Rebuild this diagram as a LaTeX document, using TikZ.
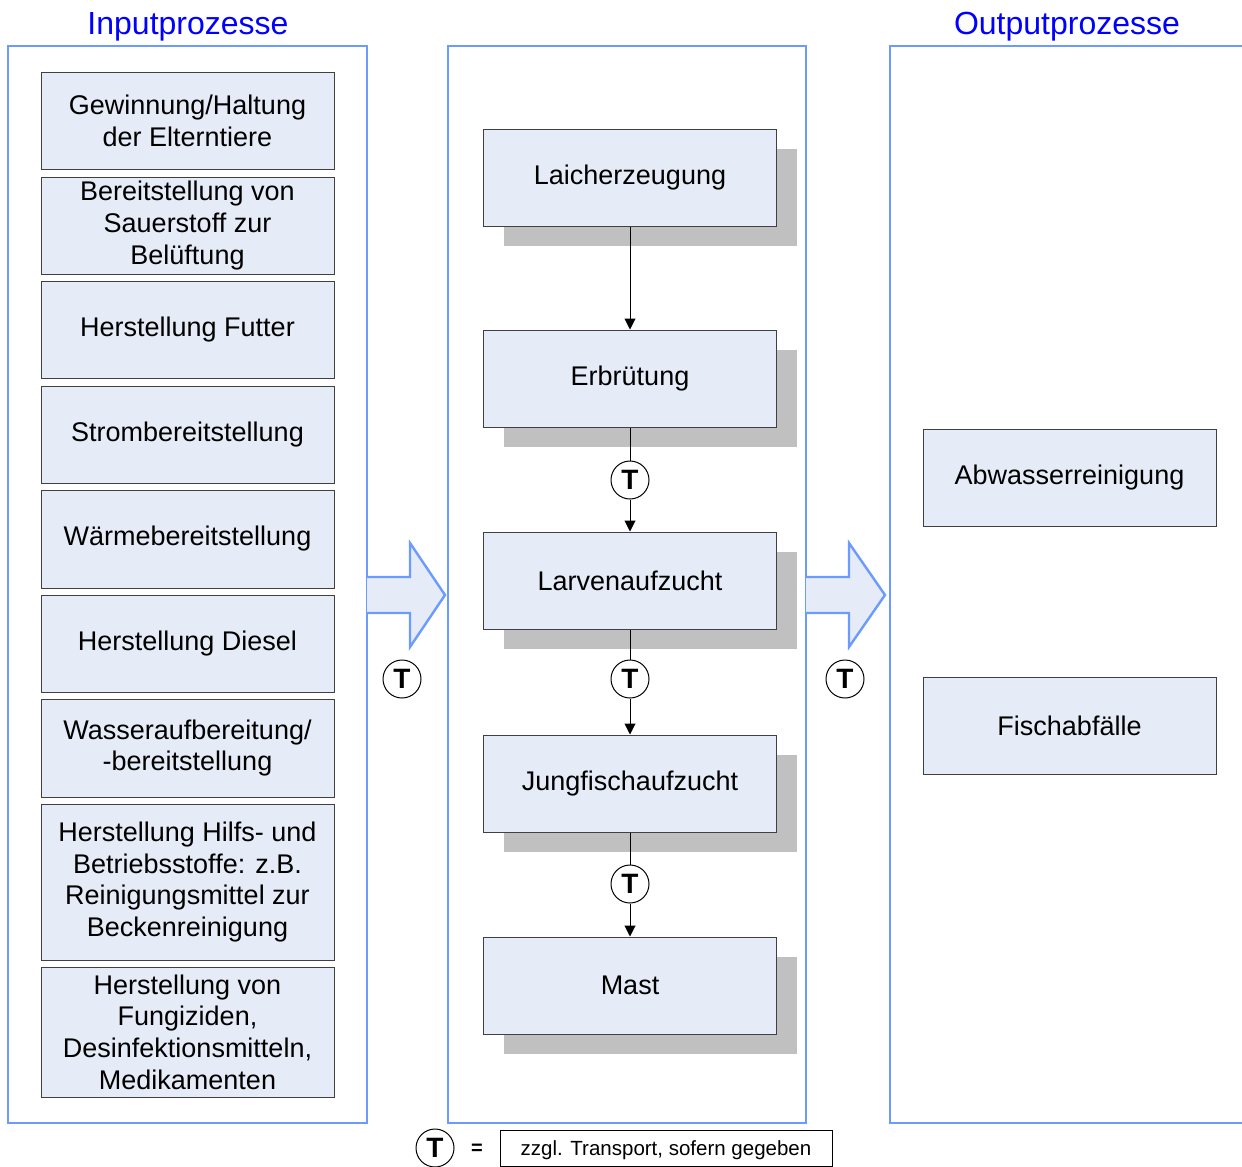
\documentclass[tikz,border=0pt]{standalone}
\usepackage{fontspec}
\setmainfont{Liberation Sans}
\usetikzlibrary{shadows,arrows.meta}
\definecolor{panelblue}{HTML}{6B9BFF}
\definecolor{titleblue}{HTML}{0000FF}
\definecolor{boxfill}{HTML}{E6ECF7}
\definecolor{boxline}{HTML}{404040}
\definecolor{shadowgray}{HTML}{C0C0C0}
\tikzset{
  panel/.style={draw=panelblue, line width=2.4pt},
  paneltitle/.style={text=titleblue, font=\fontsize{32}{36}\selectfont, inner sep=0pt},
  procbox/.style={draw=boxline, fill=boxfill, line width=1pt, minimum width=293pt,
    minimum height=97pt, align=center, inner sep=0pt,
    font=\fontsize{27}{31.7}\selectfont},
  stagebox/.style={procbox, drop shadow={shadow xshift=20pt, shadow yshift=-20pt,
    fill=shadowgray, opacity=1}},
  tcircle/.style={circle, draw=black, line width=1pt, fill=white, minimum size=38pt,
    inner sep=0pt, font=\fontsize{28}{28}\selectfont\bfseries},
  flow/.style={draw=black, line width=1pt, -{Triangle[length=11pt,width=11pt]}},
  link/.style={draw=black, line width=1pt},
  blockarrow/.style={draw=panelblue, fill=boxfill, line width=2.4pt, line join=miter}
}
\begin{document}
\begin{tikzpicture}[x=1pt,y=-1pt]
\useasboundingbox (0,0) rectangle (1242,1167);
\fill[white] (0,0) rectangle (1242,1167);

% panels
\draw[panel] (8,46) rectangle (367,1123);
\draw[panel] (448,46) rectangle (806,1123);
\draw[panel] (1246,46) -- (890,46) -- (890,1123) -- (1246,1123);
\node[paneltitle] (tin) at (188,27) {Inputprozesse};
\node[paneltitle] (tout) at (1067,27) {Outputprozesse};

% input processes
\node[procbox, minimum height=97pt]  (i1) at (187.5,120.5) {Gewinnung/Haltung\\der Elterntiere};
\node[procbox, minimum height=97pt]  (i2) at (187.5,225.5) {Bereitstellung von\\Sauerstoff zur\\Belüftung};
\node[procbox, minimum height=97pt]  (i3) at (187.5,329.5) {Herstellung Futter};
\node[procbox, minimum height=97pt]  (i4) at (187.5,434.5) {Strombereitstellung};
\node[procbox, minimum height=98pt]  (i5) at (187.5,539) {Wärmebereitstellung};
\node[procbox, minimum height=97pt]  (i6) at (187.5,643.5) {Herstellung Diesel};
\node[procbox, minimum height=98pt]  (i7) at (187.5,748) {Wasseraufbereitung/\\-bereitstellung};
\node[procbox, minimum height=156pt] (i8) at (187.5,882) {Herstellung Hilfs- und\\Betriebsstoffe: z.B.\\Reinigungsmittel zur\\Beckenreinigung};
\node[procbox, minimum height=130pt] (i9) at (187.5,1032) {Herstellung von\\Fungiziden,\\Desinfektionsmitteln,\\Medikamenten};

% production stages
\node[stagebox] (s1) at (630,177.5) {Laicherzeugung};
\node[stagebox] (s2) at (630,378.5) {Erbrütung};
\node[stagebox] (s3) at (630,580.5) {Larvenaufzucht};
\node[stagebox] (s4) at (630,783.5) {Jungfischaufzucht};
\node[stagebox] (s5) at (630,985.5) {Mast};

\node[tcircle] (t1) at (630,480) {T};
\node[tcircle] (t2) at (630,679) {T};
\node[tcircle] (t3) at (630,884) {T};

\draw[flow] (s1) -- (s2);
\draw[link] (s2) -- (t1);
\draw[flow] (t1) -- (s3);
\draw[link] (s3) -- (t2);
\draw[flow] (t2) -- (s4);
\draw[link] (s4) -- (t3);
\draw[flow] (t3) -- (s5);

% output processes
\node[procbox] (o1) at (1069.5,477.5) {Abwasserreinigung};
\node[procbox] (o2) at (1069.5,725.5) {Fischabfälle};

% block arrows between panels
\draw[blockarrow] (367,577) -- (410,577) -- (410,543) -- (445,595) -- (410,647) -- (410,613) -- (367,613);
\draw[blockarrow] (806,577) -- (849,577) -- (849,543) -- (885,595) -- (849,647) -- (849,613) -- (806,613);
\node[tcircle] (ta) at (402,679) {T};
\node[tcircle] (tb) at (845,679) {T};

% legend
\node[tcircle] (tl) at (435,1148) {T};
\node[font=\fontsize{20}{20}\selectfont\bfseries, inner sep=0pt] (eq) at (477,1149) {=};
\node[draw=black, line width=1pt, minimum width=332pt, minimum height=36pt, inner sep=0pt] (leg) at (666,1148) {};
\node[font=\fontsize{20.5}{22}\selectfont, inner sep=0pt] (legtext) at (666,1150) {zzgl. Transport, sofern gegeben};
\end{tikzpicture}
\end{document}
